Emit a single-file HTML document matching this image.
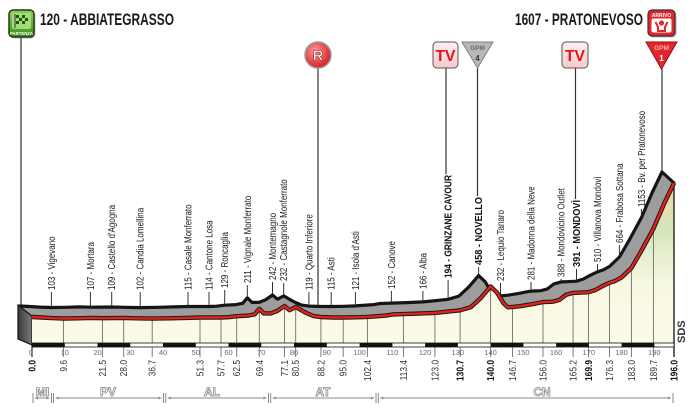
<!DOCTYPE html>
<html><head><meta charset="utf-8"><style>html,body{margin:0;padding:0;background:#fff;}svg{display:block;}text{font-family:"Liberation Sans",Arial,sans-serif;}</style></head>
<body>
<svg width="700" height="420" viewBox="0 0 700 420" xmlns="http://www.w3.org/2000/svg">
<defs>
<linearGradient id="face" gradientUnits="userSpaceOnUse" x1="0" y1="183" x2="0" y2="343">
<stop offset="0" stop-color="#ecce96"/><stop offset="0.15" stop-color="#e9dcae"/><stop offset="0.3" stop-color="#d3e6bd"/><stop offset="0.45" stop-color="#e6efcf"/><stop offset="0.65" stop-color="#f8f8e2"/><stop offset="1" stop-color="#fcfae8"/>
</linearGradient>
<linearGradient id="side" x1="0" y1="0" x2="1" y2="0"><stop offset="0" stop-color="#3a3a3a"/><stop offset="1" stop-color="#7a7a7a"/></linearGradient>
<linearGradient id="grn" x1="0" y1="0" x2="0" y2="1"><stop offset="0" stop-color="#8fd05a"/><stop offset="1" stop-color="#3c8f1c"/></linearGradient>
<radialGradient id="rball" cx="0.4" cy="0.35" r="0.7"><stop offset="0" stop-color="#ff9a9a"/><stop offset="1" stop-color="#d3141c"/></radialGradient>
<linearGradient id="tvbg" x1="0" y1="0" x2="0" y2="1"><stop offset="0" stop-color="#fff0f0"/><stop offset="1" stop-color="#f7c9c9"/></linearGradient>
</defs>

<!-- titles -->
<text x="40" y="25" font-size="16.5" font-weight="bold" fill="#1a1a1a" textLength="134" lengthAdjust="spacingAndGlyphs">120 - ABBIATEGRASSO</text>
<text x="515" y="25" font-size="16.5" font-weight="bold" fill="#1a1a1a" textLength="128" lengthAdjust="spacingAndGlyphs">1607 - PRATONEVOSO</text>

<!-- icon lines -->
<g stroke="#333" stroke-width="1.2">
<line x1="21" y1="38" x2="21" y2="306"/>
<line x1="318" y1="68" x2="318" y2="306"/>
<line x1="446" y1="68" x2="446" y2="174"/>
<line x1="477.5" y1="68" x2="477.5" y2="196"/>
<line x1="575.5" y1="68" x2="575.5" y2="199"/>
<line x1="662" y1="68" x2="662" y2="172"/>
</g>

<!-- partenza icon -->
<rect x="10.5" y="11.5" width="25" height="27" rx="4" fill="#777" opacity="0.5"/>
<rect x="9" y="10" width="25" height="27" rx="4" fill="url(#grn)" stroke="#1f3d12" stroke-width="1.5"/>
<rect x="12" y="13" width="19" height="16" rx="2" fill="#a6da78"/>
<line x1="15" y1="14" x2="15" y2="28" stroke="#234" stroke-width="1"/>
<g fill="#1e5a12"><rect x="16" y="15" width="3" height="3"/><rect x="22" y="15" width="3" height="3"/><rect x="19" y="18" width="3" height="3"/><rect x="25" y="18" width="3" height="3"/><rect x="16" y="21" width="3" height="3"/><rect x="22" y="21" width="3" height="3"/></g>
<text x="21.5" y="35" font-size="4.3" font-weight="bold" fill="#fff" text-anchor="middle">PARTENZA</text>

<!-- R icon -->
<circle cx="318" cy="55" r="13" fill="url(#rball)" stroke="#9a9a9a" stroke-width="1.5"/>
<text x="318" y="60.5" font-size="15" font-weight="bold" fill="#fff" stroke="#8b0000" stroke-width="0.5" text-anchor="middle">R</text>

<!-- TV icons -->
<rect x="433" y="42" width="25" height="26" rx="4" fill="url(#tvbg)" stroke="#555" stroke-width="1"/>
<text x="445.5" y="61" font-size="16" font-weight="bold" fill="#e3141b" text-anchor="middle" textLength="20" lengthAdjust="spacingAndGlyphs">TV</text>
<rect x="562" y="42" width="26" height="26" rx="4" fill="url(#tvbg)" stroke="#555" stroke-width="1"/>
<text x="575" y="61" font-size="16" font-weight="bold" fill="#e3141b" text-anchor="middle" textLength="20" lengthAdjust="spacingAndGlyphs">TV</text>

<!-- GPM 4 -->
<polygon points="462,42 493,42 477.5,68" fill="#b8b8b8" stroke="#808080" stroke-width="1"/>
<text x="477.5" y="50" font-size="6.5" font-weight="bold" fill="#6a6a6a" text-anchor="middle">GPM</text>
<text x="477.5" y="61" font-size="8" font-weight="bold" fill="#333" text-anchor="middle">4</text>

<!-- Arrivo -->
<rect x="649.5" y="11.5" width="27" height="26" rx="4" fill="#777" opacity="0.5"/>
<rect x="648" y="10" width="27" height="26" rx="4" fill="#e3262c" stroke="#333" stroke-width="1.2"/>
<text x="661.5" y="16.8" font-size="5" font-weight="bold" fill="#fff" text-anchor="middle">ARRIVO</text>
<rect x="651.5" y="18.5" width="20" height="14" rx="2" fill="#fff"/>
<circle cx="661.5" cy="23" r="2.6" fill="#e3262c"/>
<path d="M655.5,22 L658,27 L658,31 L665,31 L665,27 L667.5,22" fill="none" stroke="#e3262c" stroke-width="2"/>

<!-- GPM 1 -->
<polygon points="646,42 677,42 661.5,69" fill="#e3262c" stroke="#9a0a10" stroke-width="1"/>
<text x="661.5" y="50" font-size="6.5" font-weight="bold" fill="#f6b0b0" text-anchor="middle">GPM</text>
<text x="661.5" y="61" font-size="8" font-weight="bold" fill="#fff" text-anchor="middle">1</text>

<!-- ribbon -->
<polygon fill="#9d9d9d" points="20,306 29.8,306.5 39.7,307.1 51.4,307.5 65.9,307.3 79,306.9 90.4,307.2 101.9,307.1 111.7,307 124.8,307.3 140.2,307.6 157.6,307.3 173.9,306.9 188,306.5 200.2,306.5 209,306.5 216.5,306.2 224.7,305.2 236.2,304.6 242.7,303.3 247.3,297.8 251.9,302.4 259.1,302.4 265.7,299.7 272.5,295 277.5,299.2 283.7,295.9 288.6,298.8 295.1,302.4 301.7,305.1 308.9,306.1 321.3,306.5 331.2,306.5 344.3,306.3 355.4,305.9 373.8,304.6 380.3,303.5 391.4,303.1 406.5,302.6 422.9,301.9 436,300.6 448.1,299.3 458.9,296.1 468.7,287.1 478.6,275.5 485.1,281.7 491.7,292.5 495.9,296.3 500.5,295.9 508,295.2 517.9,293.6 531,291.1 540.8,290.7 547.4,288.9 553.9,283.9 561.1,281.9 567,281.7 576.5,281.2 583.4,279 589.9,275.4 597.5,271.8 603,270 609.6,266.4 619.4,257 629.2,240.2 641.4,217.7 652.2,192.5 662,172 674,183 664.2,203.5 653.4,228.7 641.2,251.2 631.4,268 621.6,277.4 615,281 609.5,282.8 601.9,286.4 595.4,290 588.5,292.2 579,292.7 573.1,292.9 565.9,294.9 559.4,299.9 552.8,301.7 543,302.1 529.9,304.6 520,306.2 512.5,306.9 507.9,307.3 503.7,303.5 497.1,292.7 490.6,286.5 480.7,298.1 470.9,307.1 460.1,310.3 448,311.6 434.9,312.9 418.5,313.6 403.4,314.1 392.3,314.5 385.8,315.6 367.4,316.9 356.3,317.3 343.2,317.5 333.3,317.5 320.9,317.1 313.7,316.1 307.1,313.4 300.6,309.8 295.7,306.9 289.5,310.2 284.5,306 277.7,310.7 271.1,313.4 263.9,313.4 259.3,308.8 254.7,314.3 248.2,315.6 236.7,316.2 228.5,317.2 221,317.5 212.2,317.5 200,317.5 185.9,317.9 169.6,318.3 152.2,318.6 136.8,318.3 123.7,318 113.9,318.1 102.4,318.2 91,317.9 77.9,318.3 63.4,318.5 51.7,318.1 41.8,317.5 32,317"/>
<polyline fill="none" stroke="#151515" stroke-width="3.2" stroke-linejoin="round" stroke-linecap="round" points="20,306 29.8,306.5 39.7,307.1 51.4,307.5 65.9,307.3 79,306.9 90.4,307.2 101.9,307.1 111.7,307 124.8,307.3 140.2,307.6 157.6,307.3 173.9,306.9 188,306.5 200.2,306.5 209,306.5 216.5,306.2 224.7,305.2 236.2,304.6 242.7,303.3 247.3,297.8 251.9,302.4 259.1,302.4 265.7,299.7 272.5,295 277.5,299.2 283.7,295.9 288.6,298.8 295.1,302.4 301.7,305.1 308.9,306.1 321.3,306.5 331.2,306.5 344.3,306.3 355.4,305.9 373.8,304.6 380.3,303.5 391.4,303.1 406.5,302.6 422.9,301.9 436,300.6 448.1,299.3 458.9,296.1 468.7,287.1 478.6,275.5 485.1,281.7 491.7,292.5 495.9,296.3 500.5,295.9 508,295.2 517.9,293.6 531,291.1 540.8,290.7 547.4,288.9 553.9,283.9 561.1,281.9 567,281.7 576.5,281.2 583.4,279 589.9,275.4 597.5,271.8 603,270 609.6,266.4 619.4,257 629.2,240.2 641.4,217.7 652.2,192.5 662,172 674,183"/>

<!-- left side block -->
<polygon points="18,305 32,316 32,345 18,339" fill="url(#side)" stroke="#111" stroke-width="1.2"/>

<!-- front face -->
<polygon fill="url(#face)" points="32,317 41.8,317.5 51.7,318.1 63.4,318.5 77.9,318.3 91,317.9 102.4,318.2 113.9,318.1 123.7,318 136.8,318.3 152.2,318.6 169.6,318.3 185.9,317.9 200,317.5 212.2,317.5 221,317.5 228.5,317.2 236.7,316.2 248.2,315.6 254.7,314.3 259.3,308.8 263.9,313.4 271.1,313.4 277.7,310.7 284.5,306 289.5,310.2 295.7,306.9 300.6,309.8 307.1,313.4 313.7,316.1 320.9,317.1 333.3,317.5 343.2,317.5 356.3,317.3 367.4,316.9 385.8,315.6 392.3,314.5 403.4,314.1 418.5,313.6 434.9,312.9 448,311.6 460.1,310.3 470.9,307.1 480.7,298.1 490.6,286.5 497.1,292.7 503.7,303.5 507.9,307.3 512.5,306.9 520,306.2 529.9,304.6 543,302.1 552.8,301.7 559.4,299.9 565.9,294.9 573.1,292.9 579,292.7 588.5,292.2 595.4,290 601.9,286.4 609.5,282.8 615,281 621.6,277.4 631.4,268 641.2,251.2 653.4,228.7 664.2,203.5 674,183 674,343 32,343"/>

<!-- grid lines + ticks -->
<g stroke="#6e6e6e" stroke-width="0.9">
<line x1="63.4" y1="319" x2="63.4" y2="357"/><line x1="102.4" y1="319" x2="102.4" y2="357"/><line x1="123.7" y1="319" x2="123.7" y2="357"/><line x1="152.2" y1="319" x2="152.2" y2="357"/><line x1="200" y1="318" x2="200" y2="357"/><line x1="221" y1="318" x2="221" y2="357"/><line x1="236.7" y1="317" x2="236.7" y2="357"/><line x1="259.3" y1="310" x2="259.3" y2="357"/><line x1="284.5" y1="307" x2="284.5" y2="357"/><line x1="295.7" y1="308" x2="295.7" y2="357"/><line x1="320.9" y1="318" x2="320.9" y2="357"/><line x1="343.2" y1="318" x2="343.2" y2="357"/><line x1="367.4" y1="318" x2="367.4" y2="357"/><line x1="403.4" y1="315" x2="403.4" y2="357"/><line x1="434.9" y1="314" x2="434.9" y2="357"/><line x1="460.1" y1="311" x2="460.1" y2="357"/><line x1="490.6" y1="288" x2="490.6" y2="357"/><line x1="512.5" y1="308" x2="512.5" y2="357"/><line x1="543" y1="303" x2="543" y2="357"/><line x1="573.1" y1="294" x2="573.1" y2="357"/><line x1="588.5" y1="293" x2="588.5" y2="357"/><line x1="609.5" y1="284" x2="609.5" y2="357"/><line x1="631.4" y1="269" x2="631.4" y2="357"/><line x1="653.4" y1="230" x2="653.4" y2="357"/>
</g>
<line x1="32" y1="343" x2="32" y2="357" stroke="#222" stroke-width="1.2"/>
<line x1="674" y1="183" x2="674" y2="357" stroke="#222" stroke-width="1.4"/>

<!-- red front line -->
<polyline fill="none" stroke="#1a1a1a" stroke-width="4.4" stroke-linejoin="round" points="32,317 41.8,317.5 51.7,318.1 63.4,318.5 77.9,318.3 91,317.9 102.4,318.2 113.9,318.1 123.7,318 136.8,318.3 152.2,318.6 169.6,318.3 185.9,317.9 200,317.5 212.2,317.5 221,317.5 228.5,317.2 236.7,316.2 248.2,315.6 254.7,314.3 259.3,308.8 263.9,313.4 271.1,313.4 277.7,310.7 284.5,306 289.5,310.2 295.7,306.9 300.6,309.8 307.1,313.4 313.7,316.1 320.9,317.1 333.3,317.5 343.2,317.5 356.3,317.3 367.4,316.9 385.8,315.6 392.3,314.5 403.4,314.1 418.5,313.6 434.9,312.9 448,311.6 460.1,310.3 470.9,307.1 480.7,298.1 490.6,286.5 497.1,292.7 503.7,303.5 507.9,307.3 512.5,306.9 520,306.2 529.9,304.6 543,302.1 552.8,301.7 559.4,299.9 565.9,294.9 573.1,292.9 579,292.7 588.5,292.2 595.4,290 601.9,286.4 609.5,282.8 615,281 621.6,277.4 631.4,268 641.2,251.2 653.4,228.7 664.2,203.5 674,183"/>
<polyline fill="none" stroke="#e2231a" stroke-width="2.4" stroke-linejoin="round" points="32,317 41.8,317.5 51.7,318.1 63.4,318.5 77.9,318.3 91,317.9 102.4,318.2 113.9,318.1 123.7,318 136.8,318.3 152.2,318.6 169.6,318.3 185.9,317.9 200,317.5 212.2,317.5 221,317.5 228.5,317.2 236.7,316.2 248.2,315.6 254.7,314.3 259.3,308.8 263.9,313.4 271.1,313.4 277.7,310.7 284.5,306 289.5,310.2 295.7,306.9 300.6,309.8 307.1,313.4 313.7,316.1 320.9,317.1 333.3,317.5 343.2,317.5 356.3,317.3 367.4,316.9 385.8,315.6 392.3,314.5 403.4,314.1 418.5,313.6 434.9,312.9 448,311.6 460.1,310.3 470.9,307.1 480.7,298.1 490.6,286.5 497.1,292.7 503.7,303.5 507.9,307.3 512.5,306.9 520,306.2 529.9,304.6 543,302.1 552.8,301.7 559.4,299.9 565.9,294.9 573.1,292.9 579,292.7 588.5,292.2 595.4,290 601.9,286.4 609.5,282.8 615,281 621.6,277.4 631.4,268 641.2,251.2 653.4,228.7 664.2,203.5 674,183"/>

<!-- km bar -->
<rect x="32" y="343" width="642" height="4" fill="#fff" stroke="#111" stroke-width="0.8"/>
<g fill="#111">
<rect x="32" y="343" width="32.8" height="4"/><rect x="97.5" y="343" width="32.8" height="4"/><rect x="163" y="343" width="32.8" height="4"/><rect x="228.5" y="343" width="32.8" height="4"/><rect x="294" y="343" width="32.8" height="4"/><rect x="359.6" y="343" width="32.8" height="4"/><rect x="425.1" y="343" width="32.8" height="4"/><rect x="490.6" y="343" width="32.8" height="4"/><rect x="556.1" y="343" width="32.8" height="4"/><rect x="621.6" y="343" width="32.8" height="4"/>
</g>
<g font-size="7.5" fill="#6a6a6a" text-anchor="middle">
<text x="31" y="355">0</text><text x="64.8" y="355">10</text><text x="97.5" y="355">20</text><text x="130.3" y="355">30</text><text x="163" y="355">40</text><text x="195.8" y="355">50</text><text x="228.5" y="355">60</text><text x="261.3" y="355">70</text><text x="294" y="355">80</text><text x="326.8" y="355">90</text><text x="359.6" y="355">100</text><text x="392.3" y="355">110</text><text x="425.1" y="355">120</text><text x="457.8" y="355">130</text><text x="490.6" y="355">140</text><text x="523.3" y="355">150</text><text x="556.1" y="355">160</text><text x="588.8" y="355">170</text><text x="621.6" y="355">180</text><text x="654.3" y="355">190</text>
</g>

<!-- km labels -->
<g font-size="10" fill="#333" text-anchor="end">
<text transform="translate(35.5,360) rotate(-90) scale(0.84,1)" font-weight="bold" fill="#111">0.0</text>
<text transform="translate(66.9,360) rotate(-90) scale(0.84,1)">9.6</text>
<text transform="translate(105.9,360) rotate(-90) scale(0.84,1)">21.5</text>
<text transform="translate(127.2,360) rotate(-90) scale(0.84,1)">28.0</text>
<text transform="translate(155.7,360) rotate(-90) scale(0.84,1)">36.7</text>
<text transform="translate(203.5,360) rotate(-90) scale(0.84,1)">51.3</text>
<text transform="translate(224.5,360) rotate(-90) scale(0.84,1)">57.7</text>
<text transform="translate(240.2,360) rotate(-90) scale(0.84,1)">62.5</text>
<text transform="translate(262.8,360) rotate(-90) scale(0.84,1)">69.4</text>
<text transform="translate(288,360) rotate(-90) scale(0.84,1)">77.1</text>
<text transform="translate(299.2,360) rotate(-90) scale(0.84,1)">80.5</text>
<text transform="translate(324.4,360) rotate(-90) scale(0.84,1)">88.2</text>
<text transform="translate(346.7,360) rotate(-90) scale(0.84,1)">95.0</text>
<text transform="translate(370.9,360) rotate(-90) scale(0.84,1)">102.4</text>
<text transform="translate(406.9,360) rotate(-90) scale(0.84,1)">113.4</text>
<text transform="translate(438.4,360) rotate(-90) scale(0.84,1)">123.0</text>
<text transform="translate(463.6,360) rotate(-90) scale(0.84,1)" font-weight="bold" fill="#111">130.7</text>
<text transform="translate(494.1,360) rotate(-90) scale(0.84,1)" font-weight="bold" fill="#111">140.0</text>
<text transform="translate(516,360) rotate(-90) scale(0.84,1)">146.7</text>
<text transform="translate(546.5,360) rotate(-90) scale(0.84,1)">156.0</text>
<text transform="translate(576.6,360) rotate(-90) scale(0.84,1)">165.2</text>
<text transform="translate(592,360) rotate(-90) scale(0.84,1)" font-weight="bold" fill="#111">169.9</text>
<text transform="translate(613,360) rotate(-90) scale(0.84,1)">176.3</text>
<text transform="translate(634.9,360) rotate(-90) scale(0.84,1)">183.0</text>
<text transform="translate(656.9,360) rotate(-90) scale(0.84,1)">189.7</text>
<text transform="translate(677.5,360) rotate(-90) scale(0.84,1)" font-weight="bold" fill="#111">196.0</text>
</g>

<!-- SDS -->
<text transform="translate(685,343) rotate(-90)" font-size="11" font-weight="bold" fill="#333">SDS</text>

<!-- town ticks -->
<g stroke="#333" stroke-width="1">
<line x1="51.4" y1="292" x2="51.4" y2="306"/><line x1="90.4" y1="292" x2="90.4" y2="306"/><line x1="111.7" y1="292" x2="111.7" y2="306"/><line x1="140.2" y1="292" x2="140.2" y2="306"/><line x1="188" y1="292" x2="188" y2="305"/><line x1="209" y1="292" x2="209" y2="305"/><line x1="224.7" y1="290" x2="224.7" y2="304"/><line x1="247.3" y1="285" x2="247.3" y2="296"/><line x1="272.5" y1="282" x2="272.5" y2="293.5"/><line x1="283.7" y1="283" x2="283.7" y2="294.5"/><line x1="308.9" y1="292" x2="308.9" y2="305"/><line x1="331.2" y1="292" x2="331.2" y2="305"/><line x1="355.4" y1="292" x2="355.4" y2="305"/><line x1="391.4" y1="291" x2="391.4" y2="302"/><line x1="422.9" y1="291" x2="422.9" y2="301"/><line x1="448.1" y1="280" x2="448.1" y2="298"/><line x1="478.6" y1="267" x2="478.6" y2="274"/><line x1="500.5" y1="283" x2="500.5" y2="295"/><line x1="531" y1="282" x2="531" y2="290"/><line x1="561.1" y1="279" x2="561.1" y2="281"/><line x1="576.5" y1="269" x2="576.5" y2="280"/><line x1="597.5" y1="264" x2="597.5" y2="270.5"/><line x1="619.4" y1="245" x2="619.4" y2="256"/><line x1="641.4" y1="209" x2="641.4" y2="216.5"/>
</g>

<!-- town labels -->
<g font-size="10" fill="#222">
<text transform="translate(54.9,290) rotate(-90) scale(0.8,1)">103 - Vigevano</text>
<text transform="translate(93.9,290) rotate(-90) scale(0.8,1)">107 - Mortara</text>
<text transform="translate(115.2,290) rotate(-90) scale(0.8,1)">109 - Castello d'Agogna</text>
<text transform="translate(143.7,290) rotate(-90) scale(0.8,1)">102 - Candia Lomellina</text>
<text transform="translate(191.5,290) rotate(-90) scale(0.8,1)">115 - Casale Monferrato</text>
<text transform="translate(212.5,290) rotate(-90) scale(0.8,1)">114 - Cantone Losa</text>
<text transform="translate(228.2,288) rotate(-90) scale(0.8,1)">129 - Roncaglia</text>
<text transform="translate(250.8,283) rotate(-90) scale(0.8,1)">211 - Vignale Monferrato</text>
<text transform="translate(276,280) rotate(-90) scale(0.8,1)">242 - Montemagno</text>
<text transform="translate(287.2,281) rotate(-90) scale(0.8,1)">232 - Castagnole Monferrato</text>
<text transform="translate(312.4,290) rotate(-90) scale(0.8,1)">119 - Quarto Inferiore</text>
<text transform="translate(334.7,290) rotate(-90) scale(0.8,1)">115 - Asti</text>
<text transform="translate(358.9,290) rotate(-90) scale(0.8,1)">121 - Isola d'Asti</text>
<text transform="translate(394.9,289) rotate(-90) scale(0.8,1)">152 - Canove</text>
<text transform="translate(426.4,289) rotate(-90) scale(0.8,1)">166 - Alba</text>
<text transform="translate(451.6,278) rotate(-90)" font-weight="bold" fill="#111" textLength="103" lengthAdjust="spacingAndGlyphs">194 - GRINZANE CAVOUR</text>
<text transform="translate(482.1,265) rotate(-90)" font-weight="bold" fill="#111" textLength="68" lengthAdjust="spacingAndGlyphs">458 - NOVELLO</text>
<text transform="translate(504,281) rotate(-90) scale(0.8,1)">232 - Lequio Tanaro</text>
<text transform="translate(534.5,280) rotate(-90) scale(0.8,1)">281 - Madonna della Neve</text>
<text transform="translate(564.6,277) rotate(-90) scale(0.8,1)">388 - Mondovicino Outlet</text>
<text transform="translate(580,267) rotate(-90)" font-weight="bold" fill="#111" textLength="67" lengthAdjust="spacingAndGlyphs">391 - MONDOVÌ</text>
<text transform="translate(601,262) rotate(-90) scale(0.8,1)">510 - Villanova Mondovì</text>
<text transform="translate(622.9,243) rotate(-90) scale(0.8,1)">664 - Frabosa Sottana</text>
<text transform="translate(644.9,207) rotate(-90) scale(0.8,1)">1153 - Bv. per Pratonevoso</text>
</g>

<!-- provinces -->
<g stroke="#8a8a8a" stroke-width="1" fill="none">
<line x1="33" y1="393" x2="33" y2="403"/><line x1="51.5" y1="393" x2="51.5" y2="403"/><line x1="35" y1="398" x2="49.5" y2="398"/>
<line x1="53.5" y1="393" x2="53.5" y2="403"/><line x1="163.5" y1="393" x2="163.5" y2="403"/><line x1="55.5" y1="398" x2="161.5" y2="398"/>
<line x1="165.7" y1="393" x2="165.7" y2="403"/><line x1="268.5" y1="393" x2="268.5" y2="403"/><line x1="167.7" y1="398" x2="266.5" y2="398"/>
<line x1="270.7" y1="393" x2="270.7" y2="403"/><line x1="376" y1="393" x2="376" y2="403"/><line x1="272.7" y1="398" x2="374" y2="398"/>
<line x1="378.3" y1="393" x2="378.3" y2="403"/><line x1="673" y1="393" x2="673" y2="403"/><line x1="380.3" y1="398" x2="671" y2="398"/>
</g>
<g fill="#8a8a8a">
<path d="M35,398 l3,-1.5 v3z M49.5,398 l-3,-1.5 v3z M55.5,398 l3,-1.5 v3z M161.5,398 l-3,-1.5 v3z M167.7,398 l3,-1.5 v3z M266.5,398 l-3,-1.5 v3z M272.7,398 l3,-1.5 v3z M374,398 l-3,-1.5 v3z M380.3,398 l3,-1.5 v3z M671,398 l-3,-1.5 v3z"/>
</g>
<g font-size="12" font-weight="bold" fill="#fff" stroke="#8a8a8a" stroke-width="0.8" text-anchor="middle">
<text x="42.5" y="396">MI</text>
<text x="108" y="396">PV</text>
<text x="212" y="396">AL</text>
<text x="323" y="396">AT</text>
<text x="542" y="396">CN</text>
</g>
</svg>
</body></html>
